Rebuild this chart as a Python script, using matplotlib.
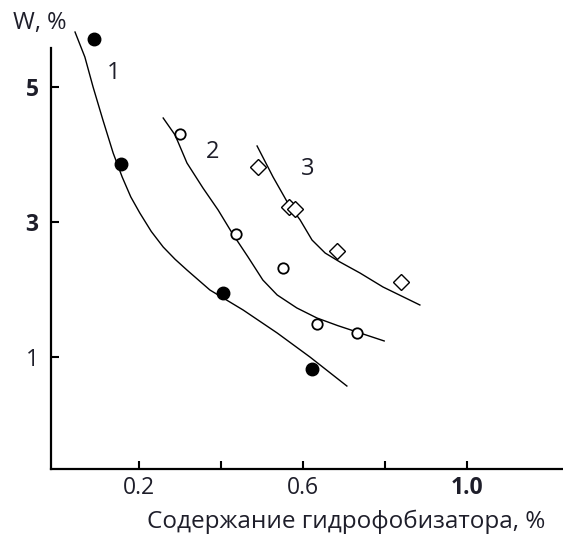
import matplotlib
matplotlib.use("Agg")
import matplotlib.pyplot as plt

plt.rcParams['font.family'] = ['Open Sans', 'DejaVu Sans']

# measured points (fraction of water repellent, %  ->  W, %)
x1 = [0.090, 0.156, 0.405, 0.622]
y1 = [5.70, 3.856, 1.952, 0.830]
x2 = [0.300, 0.437, 0.551, 0.634, 0.732]
y2 = [4.299, 2.823, 2.321, 1.494, 1.362]
x3 = [0.490, 0.566, 0.580, 0.683, 0.839]
y3 = [3.812, 3.221, 3.192, 2.572, 2.114]

# hand-drawn trend curves
cx1 = [0.044, 0.068, 0.088, 0.112, 0.137, 0.159, 0.180, 0.202, 0.230, 0.259, 0.288,
       0.317, 0.373, 0.454, 0.537, 0.617, 0.707]
cy1 = [5.804, 5.435, 4.993, 4.506, 4.018, 3.664, 3.370, 3.133, 2.860, 2.631, 2.450,
       2.291, 1.996, 1.701, 1.362, 1.007, 0.579]
cx2 = [0.259, 0.288, 0.317, 0.356, 0.393, 0.427, 0.466, 0.502, 0.537, 0.585, 0.634,
       0.685, 0.732, 0.798]
cy2 = [4.535, 4.284, 3.871, 3.502, 3.177, 2.838, 2.483, 2.144, 1.923, 1.731, 1.583,
       1.470, 1.376, 1.244]
cx3 = [0.488, 0.527, 0.563, 0.593, 0.622, 0.654, 0.690, 0.739, 0.795, 0.885]
cy3 = [4.122, 3.664, 3.280, 3.030, 2.734, 2.542, 2.410, 2.247, 2.041, 1.775]

xticks = [0.2, 0.4, 0.6, 0.8, 1.0]
xticklabels = ['0.2', '', '0.6', '', '1.0']
yticks = [1, 3, 5]
yticklabels = ['1', '3', '5']

txt = '#1e1e2a'

fig = plt.figure(figsize=(5.63, 5.35), dpi=100)
ax = fig.add_axes([51 / 563, 66 / 535, 512 / 563, 421 / 535])

ax.plot(cx1, cy1, color='black', lw=1.0, clip_on=False)
ax.plot(cx2, cy2, color='black', lw=1.0, clip_on=False)
ax.plot(cx3, cy3, color='black', lw=1.0, clip_on=False)

ax.plot(x1, y1, 'o', ms=9, color='black', clip_on=False)
ax.plot(x2, y2, 'o', ms=7.5, mfc='white', mec='black', mew=1.3, clip_on=False)
ax.plot(x3, y3, 'D', ms=8.5, mfc='white', mec='black', mew=1.0, clip_on=False)

# curve numbers
ax.text(0.137, 5.199, '1', fontsize=17, color=txt, ha='center', va='center')
ax.text(0.380, 4.033, '2', fontsize=17, color=txt, ha='center', va='center')
ax.text(0.612, 3.782, '3', fontsize=17, color=txt, ha='center', va='center')

ax.set_xlim(-0.0146, 1.2341)
ax.set_ylim(-0.6458, 5.5683)

ax.spines['top'].set_visible(False)
ax.spines['right'].set_visible(False)
ax.spines['left'].set_linewidth(1.6)
ax.spines['bottom'].set_linewidth(1.6)

ax.set_xticks(xticks)
ax.set_xticklabels(xticklabels)
ax.set_yticks(yticks)
ax.set_yticklabels(yticklabels)
ax.tick_params(direction='in', length=6, width=1.5, labelsize=16.5, colors='black',
               labelcolor=txt)
ax.tick_params(axis='y', pad=9)
ax.tick_params(axis='x', pad=5)
for lab in ax.get_yticklabels():
    if lab.get_text() in ('3', '5'):
        lab.set_fontweight('bold')
for lab in ax.get_xticklabels():
    if lab.get_text() == '1.0':
        lab.set_fontweight('bold')

fig.text(40 / 563, 1 - 23 / 535, 'W, %', fontsize=17, color=txt, ha='center', va='center')
fig.text(346 / 563, 1 - 528 / 535, 'Содержание гидрофобизатора, %', fontsize=17.5,
         color=txt, ha='center', va='baseline')

fig.savefig('out.png', dpi=100)
